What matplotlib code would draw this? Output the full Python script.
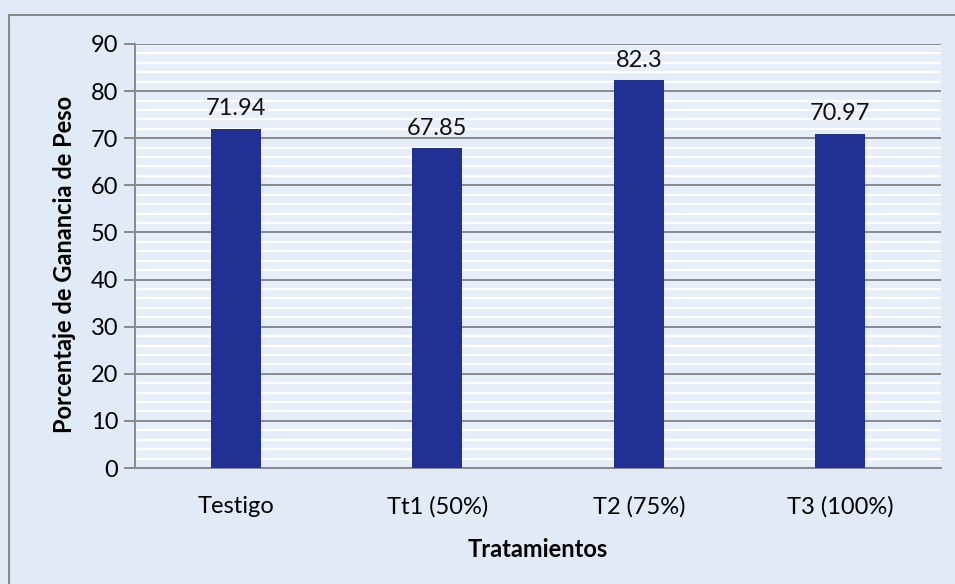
import matplotlib.pyplot as plt
from matplotlib.patches import Rectangle
from matplotlib.ticker import MultipleLocator

tratamientos = ["Testigo", "Tt1 (50%)", "T2 (75%)", "T3 (100%)"]
ganancia = [71.94, 67.85, 82.3, 70.97]
etiquetas = ["71.94", "67.85", "82.3", "70.97"]

plt.rcParams["font.family"] = ["Lato", "DejaVu Sans"]

fondo = "#e1ebf8"
gris = "#8a8a8a"

fig = plt.figure(figsize=(9.55, 5.84), dpi=100, facecolor=fondo)
ax = fig.add_axes([0.1414, 0.1986, 0.8440, 0.7261])
ax.set_facecolor("#e6eef9")

# marco exterior del grafico
fig.patches.append(Rectangle((9 / 955, -0.05), 1.2, 1 - 15 / 584 + 0.05,
                             transform=fig.transFigure, fill=False,
                             edgecolor=gris, linewidth=1.5, zorder=0))

x = range(len(tratamientos))
ax.bar(x, ganancia, width=0.25, color="#203193", zorder=3)
for xi, v, t in zip(x, ganancia, etiquetas):
    ax.annotate(t, (xi, v), xytext=(0, 7), textcoords="offset points",
                ha="center", va="bottom", fontsize=17, color="#111111")

ax.set_xlim(-0.5, 3.5)
ax.set_ylim(0, 90)
ax.yaxis.set_major_locator(MultipleLocator(10))
ax.yaxis.set_minor_locator(MultipleLocator(2))
ax.grid(axis="y", which="minor", color="white", linewidth=1.6, zorder=1)
ax.grid(axis="y", which="major", color=gris, linewidth=1.4, zorder=2)
ax.tick_params(axis="y", which="minor", length=0)
ax.tick_params(axis="y", which="major", length=8, width=1.4, color=gris,
               labelsize=17, pad=4)
ax.tick_params(axis="x", length=0, labelsize=17, pad=20)
ax.set_xticks(list(x))
ax.set_xticklabels(tratamientos)

for lado in ["top", "right"]:
    ax.spines[lado].set_visible(False)
for lado in ["left", "bottom"]:
    ax.spines[lado].set_color(gris)
    ax.spines[lado].set_linewidth(1.4)

ax.set_ylabel("Porcentaje de Ganancia de Peso", fontsize=17,
              fontweight="bold")
ax.yaxis.set_label_coords(-0.073, 0.48)
ax.set_xlabel("Tratamientos", fontsize=17, fontweight="bold", labelpad=15)

fig.savefig("out.png", dpi=100, facecolor=fondo)
